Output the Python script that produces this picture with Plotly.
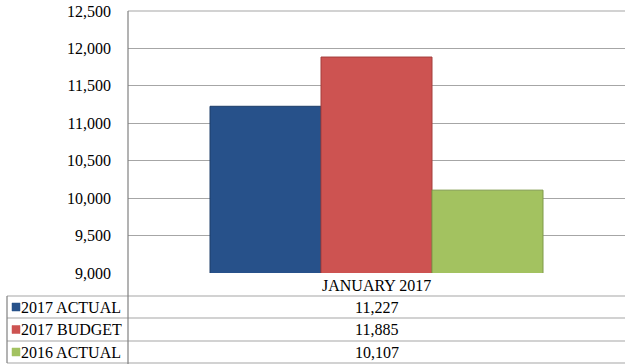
import plotly.graph_objects as go

category = "JANUARY 2017"
series = ["2017 ACTUAL", "2017 BUDGET", "2016 ACTUAL"]
values = [11227, 11885, 10107]
colors = ["#27518A", "#CD5351", "#A3C260"]
edges = ["#1D3D68", "#A43F3D", "#7F9A48"]

W, H = 625, 364
L, T, B = 128, 11, 91
plot_w, plot_h = W - L, H - T - B

def px_x(x):
    return (x - L) / plot_w

def px_y(y):
    return (H - B - y) / plot_h

font = dict(family="Liberation Serif", size=16, color="#000000")

fig = go.Figure()
for name, v, c, e in zip(series, values, colors, edges):
    fig.add_trace(go.Bar(
        x=[category], y=[v], name=name,
        marker=dict(color=c, line=dict(color=e, width=1)),
    ))

shapes = []
grid = "#A6A6A6"
# top gridline at 12,500
shapes.append(dict(type="line", xref="paper", yref="paper", x0=0, x1=1, y0=1, y1=1,
                   line=dict(color=grid, width=1.2)))
# data table: rows under the plot
row_y = [273, 296, 318, 341, 363]
for y in row_y[1:]:
    shapes.append(dict(type="line", xref="paper", yref="paper",
                       x0=px_x(7), x1=1, y0=px_y(y), y1=px_y(y),
                       line=dict(color=grid, width=1.2)))
# left vertical lines
shapes.append(dict(type="line", xref="paper", yref="paper", x0=0, x1=0,
                   y0=1, y1=px_y(364), line=dict(color="#808080", width=1.2)))
shapes.append(dict(type="line", xref="paper", yref="paper", x0=px_x(7), x1=px_x(7),
                   y0=px_y(296), y1=px_y(363), line=dict(color="#808080", width=1.2)))

annotations = []
annotations.append(dict(text=category, xref="paper", yref="paper",
                        x=0.5, y=px_y(285), showarrow=False, font=font,
                        xanchor="center", yanchor="middle"))
for i, (name, v, c) in enumerate(zip(series, values, colors)):
    yc = (row_y[i + 1] + row_y[i + 2]) / 2
    annotations.append(dict(text=f"{v:,}", xref="paper", yref="paper",
                            x=0.5, y=px_y(yc), showarrow=False, font=font,
                            xanchor="center", yanchor="middle"))
    annotations.append(dict(text=name, xref="paper", yref="paper",
                            x=px_x(19), y=px_y(yc), showarrow=False, font=font,
                            xanchor="left", yanchor="middle"))
    shapes.append(dict(type="rect", xref="paper", yref="paper",
                       x0=px_x(12), x1=px_x(20), y0=px_y(yc + 4), y1=px_y(yc - 4),
                       fillcolor=c, line=dict(color=c, width=0.5)))

fig.update_layout(
    width=W, height=H,
    margin=dict(l=L, r=0, t=T, b=B),
    paper_bgcolor="white", plot_bgcolor="white",
    barmode="group", bargap=0.33, bargroupgap=0,
    showlegend=False,
    font=font,
    shapes=shapes, annotations=annotations,
    xaxis=dict(showticklabels=False, showgrid=False, zeroline=False,
               showline=False),
    yaxis=dict(range=[9000, 12500], dtick=500, tickformat=",",
               showgrid=True, gridcolor=grid, gridwidth=1.2,
               zeroline=False, showline=False, ticks="",
               ticklabelstandoff=16, tickfont=font),
)

# drop the default body margin so the figure sits at the page corner
fig.write_html("out.html", config={"displayModeBar": False},
               post_script="document.body.style.margin='0';")
